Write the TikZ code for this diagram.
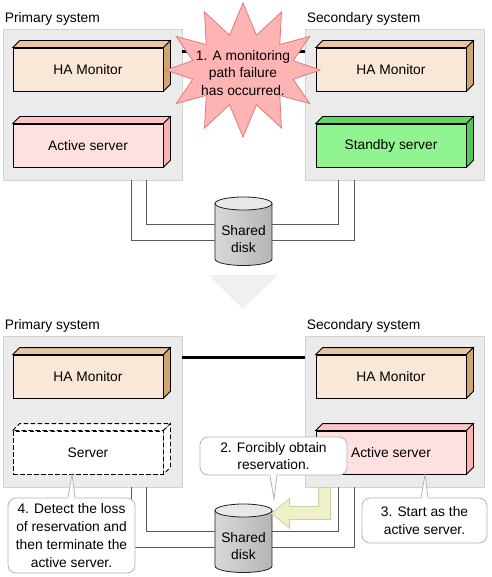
\documentclass[tikz,border=0pt]{standalone}
\usepackage{fontspec}
\setmainfont{Liberation Sans}
\usetikzlibrary{calc}

\definecolor{sysfill}{HTML}{EBEBEB}
\definecolor{sysdraw}{HTML}{D2D2D2}
\definecolor{hamfront}{HTML}{F9E7D7}
\definecolor{hamtop}{HTML}{E8C6A4}
\definecolor{hamside}{HTML}{D2A470}
\definecolor{actfront}{HTML}{FFE0E0}
\definecolor{acttop}{HTML}{FFC4C4}
\definecolor{actside}{HTML}{FFB0B0}
\definecolor{stbyfront}{HTML}{90F490}
\definecolor{stbytop}{HTML}{62D862}
\definecolor{stbyside}{HTML}{52C852}
\definecolor{burstfill}{HTML}{FFB4B4}
\definecolor{burstdraw}{HTML}{E07A7A}
\definecolor{notedraw}{HTML}{B4B4B4}
\definecolor{cablegray}{HTML}{5A5A5A}
\definecolor{arrowfill}{HTML}{F0F0C8}
\definecolor{arrowdraw}{HTML}{CFCFA6}
\definecolor{diskdraw}{HTML}{202020}
\definecolor{disktop}{HTML}{E8E8E8}

% 3D box: name, position, text, front, top face, side face
\newcommand{\serverbox}[6]{%
  \node[front,#4] (#1) at (#2) {#3};
  \filldraw[line width=.8,#5] (#1.north west) -- ++(7,-7) -- ($(#1.north east)+(7,-7)$) -- (#1.north east) -- cycle;
  \filldraw[line width=.8,#6] (#1.north east) -- ++(7,-7) -- ($(#1.south east)+(7,-7)$) -- (#1.south east) -- cycle;
}
% disk: name, position
\newcommand{\shareddisk}[2]{%
  \path[draw=diskdraw, line width=.8, left color=gray!30, middle color=gray!6, right color=gray!58]
    ($(#2)+(-28.5,-27.5)$) -- ++(0,55.5) arc[start angle=180, end angle=0, x radius=28.5, y radius=6.5] -- ++(0,-55.5) -- cycle;
  \filldraw[draw=diskdraw, line width=.8, fill=disktop] ($(#2)+(0,-27.5)$) ellipse[x radius=28.5, y radius=6.5];
  \node[disktext] (#1) at ($(#2)+(0,8)$) {Shared\\disk};
}
% callout tip: base point, tip, side
\newcommand{\notetip}[3]{%
  \fill[white] ($(#1)+(-3.5,#3)$) -- (#2) -- ($(#1)+(3.5,#3)$) -- cycle;
  \draw[noteline] ($(#1)+(-3.5,0)$) -- (#2) -- ($(#1)+(3.5,0)$);
}

\begin{document}
\begin{tikzpicture}[x=1pt, y=-1pt, font=\fontsize{13.8}{17.8}\selectfont,
  sysbox/.style={draw=sysdraw, fill=sysfill, line width=.8, minimum width=179, minimum height=151, inner sep=0},
  syslabel/.style={anchor=base west, inner sep=0},
  front/.style={draw, line width=.8, minimum width=150, minimum height=43, inner sep=0},
  gone/.style={dash pattern=on 4.5pt off 2.5pt, fill=white},
  cable/.style={draw=cablegray, line width=1},
  hbline/.style={line width=3.6},
  burst/.style={fill=burstfill, draw=burstdraw, line width=.8},
  note/.style={draw=notedraw, fill=white, rounded corners=8, line width=.8, align=center, inner sep=0},
  noteline/.style={draw=notedraw, line width=.8},
  turnarrow/.style={fill=arrowfill, draw=arrowdraw, line width=.8},
  disktext/.style={align=center, inner sep=0, minimum width=57, minimum height=40}]

\useasboundingbox (0,0) rectangle (491,577);

% systems
\node[sysbox] (pri1) at (92.5,104.5) {};
\node[sysbox] (sec1) at (394.5,104.5) {};
\node[sysbox] (pri2) at (92.5,411.5) {};
\node[sysbox] (sec2) at (394.5,411.5) {};
\node[syslabel] (prilab1) at ($(pri1.north west)+(2,-6)$) {Primary system};
\node[syslabel] (seclab1) at ($(sec1.north west)+(2,-6)$) {Secondary system};
\node[syslabel] (prilab2) at ($(pri2.north west)+(2,-6)$) {Primary system};
\node[syslabel] (seclab2) at ($(sec2.north west)+(2,-6)$) {Secondary system};

% disks and cables
\shareddisk{disk1}{243.5,231}
\shareddisk{disk2}{243.5,538}
\foreach \n in {1,2} {
 \draw[cable] ($(pri\n.south west)+(144,0)$) |- ($(disk\n.west)+(0,-15)$);
 \draw[cable] ($(pri\n.south west)+(129,0)$) |- ($(disk\n.west)+(0,1)$);
 \draw[cable] ($(sec\n.south west)+(34,0)$) |- ($(disk\n.east)+(0,-15)$);
 \draw[cable] ($(sec\n.south west)+(50,0)$) |- ($(disk\n.east)+(0,1)$);
}

% monitoring path
\draw[hbline] ($(pri1.north east)+(0,23)$) -- ($(sec1.north west)+(0,23)$);
\draw[hbline] ($(pri2.north east)+(0,22)$) -- ($(sec2.north west)+(0,22)$);

% servers
\serverbox{ham1}{88,69.5}{HA Monitor}{fill=hamfront}{fill=hamtop}{fill=hamside}
\serverbox{act1}{88,145.5}{Active server}{fill=actfront}{fill=acttop}{fill=actside}
\serverbox{ham1s}{391,69.5}{HA Monitor}{fill=hamfront}{fill=hamtop}{fill=hamside}
\serverbox{stby1}{391,145.5}{Standby server}{fill=stbyfront}{fill=stbytop}{fill=stbyside}
\serverbox{ham2}{88,376.5}{HA Monitor}{fill=hamfront}{fill=hamtop}{fill=hamside}
\serverbox{srv2}{88,452.5}{Server}{gone}{gone}{gone}
\serverbox{ham2s}{391,376.5}{HA Monitor}{fill=hamfront}{fill=hamtop}{fill=hamside}
\serverbox{act2s}{391,452.5}{Active server}{fill=actfront}{fill=acttop}{fill=actside}

% failure
\begin{scope}[shift={(243,70)}]
 \filldraw[burst] (90:77 and 67) \foreach \a in {90,120,...,420} { -- ({\a+15}:52 and 36) -- ({\a+30}:77 and 67) } -- cycle;
\end{scope}
\node[align=center, inner sep=0] (fail) at (243,73) {1. A monitoring\\path failure\\has occurred.};

% transition
\fill[gray!12] (208,275) -- (278,275) -- (243,309) -- cycle;

% reservation
\filldraw[turnarrow] ($(sec2.south west)+(14,0)$) -- ++(12,0) -- ++(0,32) -- ++(-41,0) -- ++(0,9) -- ++(-18,-15) -- ++(18,-15) -- ++(0,8) -- ++(29,0) -- cycle;

% notes
\node[note, minimum width=147, minimum height=38] (note2) at (273.5,456) {2. Forcibly obtain\\reservation.};
\notetip{note2.south}{$(note2.south)+(0.5,24)$}{-1}
\node[note, minimum width=125, minimum height=45] (note3) at (424.5,520.5) {3. Start as the\\active server.};
\notetip{note3.north}{$(act2s.south)+(34,0)$}{1}
\node[note, minimum width=127, minimum height=75] (note4) at (71.5,535.5) {4. Detect the loss\\of reservation and\\then terminate the\\active server.};
\notetip{note4.north}{$(srv2.south)+(-16,0)$}{1}
\end{tikzpicture}
\end{document}
